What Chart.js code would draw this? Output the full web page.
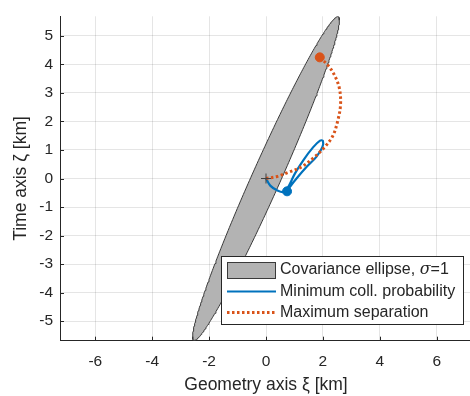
<!DOCTYPE html>
<html>
<head>
<meta charset="utf-8">
<script src="https://cdn.jsdelivr.net/npm/chart.js@4"></script>
<style>
  html, body { margin: 0; padding: 0; overflow: hidden; background: #fff; }
</style>
</head>
<body>
<canvas id="chart" width="478" height="396"></canvas>
<script>
// axis setup
const xTicks = [-6, -4, -2, 0, 2, 4, 6];
const yTicks = [-5, -4, -3, -2, -1, 0, 1, 2, 3, 4, 5];
const xLimits = [-7.24, 7.24];
const yLimits = [-5.69, 5.69];

// covariance ellipse (1 sigma): std devs along xi / zeta and correlation
const ellipseSigma = [2.58, 5.68];
const ellipseRho = 0.977;

// minimum collision probability path
const minProbX = [0, 0.15, 0.4, 0.64, 0.78, 1.02, 1.31, 1.66, 1.9, 2.0, 1.98, 1.77, 1.43, 1.08, 0.85, 0.74];
const minProbY = [0, -0.25, -0.42, -0.47, -0.3, 0.18, 0.64, 1.1, 1.33, 1.32, 1.1, 0.76, 0.41, 0.01, -0.28, -0.45];

// maximum separation path
const maxSepX = [0, 0.39, 0.79, 1.25, 1.71, 2.06, 2.35, 2.52, 2.62, 2.58, 2.41, 2.18, 1.89];
const maxSepY = [0, 0.07, 0.22, 0.41, 0.76, 1.1, 1.5, 2.02, 2.59, 3.16, 3.62, 3.97, 4.25];

const startPoint = [0, 0];
const minProbEnd = [0.74, -0.45];
const maxSepEnd = [1.89, 4.25];

const legendLabels = ['Covariance ellipse, ', 'Minimum coll. probability', 'Maximum separation'];

const FONT = "'Liberation Sans', Arial, sans-serif";
const ink = '#262626';
const gridColor = 'rgba(38,38,38,0.12)';
const blue = '#0072BD';
const orange = '#D95319';
const grey = '#b3b3b3';

function pts(xs, ys) {
  return xs.map((x, i) => ({ x: x, y: ys[i] }));
}

// upper / lower halves of the ellipse between its leftmost and rightmost points
function ellipseArc(upper) {
  const out = [];
  const n = 180;
  const s = Math.sqrt(1 - ellipseRho * ellipseRho);
  for (let i = 0; i <= n; i++) {
    const t = upper ? Math.PI - Math.PI * i / n : Math.PI + Math.PI * i / n;
    out.push({
      x: ellipseSigma[0] * Math.cos(t),
      y: ellipseSigma[1] * (ellipseRho * Math.cos(t) + s * Math.sin(t))
    });
  }
  return out;
}

const inwardTicks = {
  id: 'inwardTicks',
  afterDatasetsDraw(chart) {
    const c = chart.ctx, a = chart.chartArea;
    const sx = chart.scales.x, sy = chart.scales.y;
    c.save();
    c.strokeStyle = ink;
    c.lineWidth = 1;
    c.beginPath();
    xTicks.forEach(v => {
      const px = Math.round(sx.getPixelForValue(v)) + 0.5;
      c.moveTo(px, a.bottom);
      c.lineTo(px, a.bottom - 4);
    });
    yTicks.forEach(v => {
      const py = Math.round(sy.getPixelForValue(v)) + 0.5;
      c.moveTo(a.left, py);
      c.lineTo(a.left + 4, py);
    });
    c.stroke();
    c.restore();
  }
};

const boxLegend = {
  id: 'boxLegend',
  afterDraw(chart) {
    const c = chart.ctx;
    const L = 221.5, T = 256.5, W = 242, H = 68;
    c.save();
    c.fillStyle = '#fff';
    c.fillRect(L, T, W, H);
    c.strokeStyle = ink;
    c.lineWidth = 1;
    c.strokeRect(L, T, W, H);

    const rows = [270, 291.5, 312.5];
    // patch
    c.fillStyle = grey;
    c.fillRect(227.5, 262.5, 48, 16);
    c.strokeStyle = '#3a3a3a';
    c.strokeRect(227.5, 262.5, 48, 16);
    // blue line
    c.strokeStyle = blue;
    c.lineWidth = 2;
    c.beginPath();
    c.moveTo(227, rows[1]);
    c.lineTo(276, rows[1]);
    c.stroke();
    // orange dotted
    c.strokeStyle = orange;
    c.lineWidth = 3;
    c.setLineDash([2.5, 2.5]);
    c.beginPath();
    c.moveTo(227, rows[2]);
    c.lineTo(276, rows[2]);
    c.stroke();
    c.setLineDash([]);

    c.fillStyle = ink;
    c.textBaseline = 'middle';
    c.textAlign = 'left';
    c.font = '16px ' + FONT;
    const tx = 280;
    c.fillText(legendLabels[0], tx, rows[0]);
    let w = c.measureText(legendLabels[0]).width;
    c.font = 'italic 16px ' + "'DejaVu Serif', serif";
    c.fillText('σ', tx + w, rows[0]);
    w += c.measureText('σ').width;
    c.font = '16px ' + FONT;
    c.fillText('=1', tx + w, rows[0]);
    c.fillText(legendLabels[1], tx, rows[1]);
    c.fillText(legendLabels[2], tx, rows[2]);
    c.restore();
  }
};

const lineBase = { showLine: true, pointRadius: 0, fill: false };

new Chart(document.getElementById('chart'), {
  type: 'scatter',
  data: {
    datasets: [
      Object.assign({}, lineBase, {
        data: ellipseArc(true), fill: '+1', backgroundColor: grey,
        borderColor: '#3a3a3a', borderWidth: 1, order: 10
      }),
      Object.assign({}, lineBase, {
        data: ellipseArc(false), borderColor: '#3a3a3a', borderWidth: 1, order: 9
      }),
      Object.assign({}, lineBase, {
        data: pts(minProbX, minProbY), borderColor: blue, borderWidth: 2.2,
        tension: 0.35, order: 5
      }),
      Object.assign({}, lineBase, {
        data: pts(maxSepX, maxSepY), borderColor: orange, borderWidth: 3,
        borderDash: [2.5, 2.5], tension: 0.35, order: 4
      }),
      {
        data: [{ x: minProbEnd[0], y: minProbEnd[1] }], pointRadius: 4.5,
        backgroundColor: blue, borderColor: blue, order: 3
      },
      {
        data: [{ x: maxSepEnd[0], y: maxSepEnd[1] }], pointRadius: 4.5,
        backgroundColor: orange, borderColor: orange, order: 3
      },
      {
        data: [{ x: startPoint[0], y: startPoint[1] }], pointStyle: 'cross',
        pointRadius: 5, borderColor: '#404040', borderWidth: 1, order: 1
      }
    ]
  },
  options: {
    responsive: false,
    animation: false,
    events: [],
    layout: { padding: { top: 10, left: 0, right: 0, bottom: 0 } },
    plugins: { legend: { display: false }, tooltip: { enabled: false } },
    scales: {
      x: {
        type: 'linear',
        min: xLimits[0], max: xLimits[1],
        afterBuildTicks: s => { s.ticks = xTicks.map(v => ({ value: v })); },
        afterFit: s => { s.height = 55.3; },
        grid: { color: gridColor, drawTicks: false },
        border: { color: ink, width: 1 },
        ticks: { color: ink, font: { family: FONT, size: 15.5 }, padding: 12, maxRotation: 0, autoSkip: false },
        title: { display: true, text: 'Geometry axis ξ [km]', color: ink, font: { family: FONT, size: 17.5 }, padding: { top: 0, bottom: 0 } }
      },
      y: {
        type: 'linear',
        min: yLimits[0], max: yLimits[1],
        afterBuildTicks: s => { s.ticks = yTicks.map(v => ({ value: v })); },
        afterFit: s => { s.width = 60; },
        grid: { color: gridColor, drawTicks: false },
        border: { color: ink, width: 1 },
        ticks: { color: ink, font: { family: FONT, size: 15.5 }, padding: 7, autoSkip: false },
        title: { display: true, text: 'Time axis ζ [km]', color: ink, font: { family: FONT, size: 17.5 }, padding: { top: 11, bottom: 0 } }
      }
    }
  },
  plugins: [inwardTicks, boxLegend]
});
</script>
</body>
</html>
